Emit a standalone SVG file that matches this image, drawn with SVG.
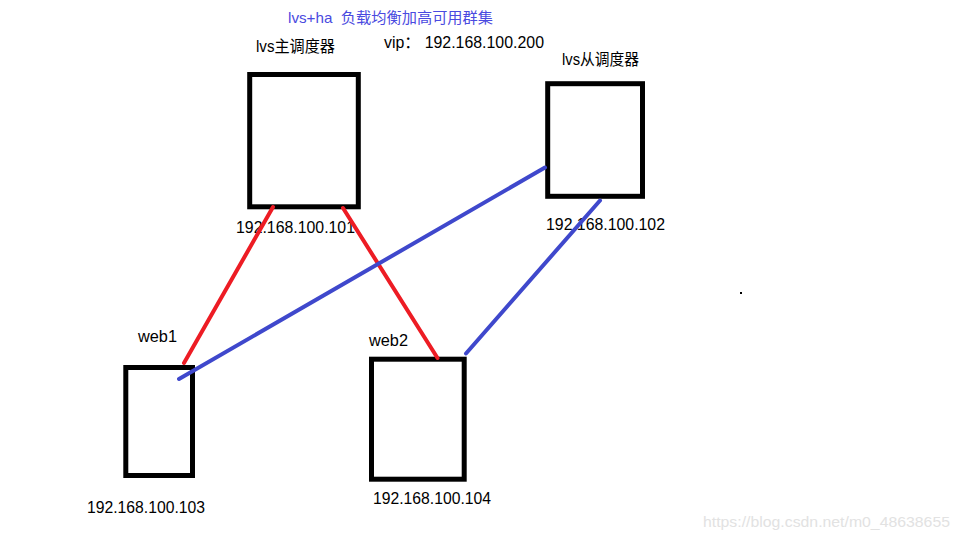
<svg xmlns="http://www.w3.org/2000/svg" width="960" height="540" viewBox="0 0 960 540">
<style>
.box{fill:#fff;stroke:#000;stroke-width:5}
.t{font-family:"Liberation Sans","Noto Sans CJK SC",sans-serif;font-size:16px;fill:#000}
.title{font-family:"Liberation Sans","Noto Sans CJK SC",sans-serif;font-size:14.5px;fill:#4a4ae0}
.red{stroke:#ed1c24;stroke-width:4;stroke-linecap:round;fill:none}
.blue{stroke:#3f48cc;stroke-width:4;stroke-linecap:round;fill:none}
.wm{font-family:"Liberation Sans",sans-serif;font-size:15px;fill:#e2e2e2}
</style>
<rect width="960" height="540" fill="#fff"/>
<text class="title" x="288" y="23" textLength="205" lengthAdjust="spacingAndGlyphs" xml:space="preserve">lvs+ha  负载均衡加高可用群集</text>
<text class="t" x="384" y="48" textLength="160" lengthAdjust="spacingAndGlyphs">vip： 192.168.100.200</text>
<g id="master">
<rect class="box" x="249.7" y="74.5" width="108.6" height="132.3"/>
<text class="t" x="256" y="52" textLength="79" lengthAdjust="spacingAndGlyphs">lvs主调度器</text>
<text class="t" x="236" y="233" textLength="119" lengthAdjust="spacingAndGlyphs">192.168.100.101</text>
</g>
<g id="backup">
<rect class="box" x="547.7" y="83.7" width="94.8" height="112.6"/>
<text class="t" x="562" y="65" textLength="77" lengthAdjust="spacingAndGlyphs">lvs从调度器</text>
<text class="t" x="546" y="230" textLength="119" lengthAdjust="spacingAndGlyphs">192.168.100.102</text>
</g>
<g id="web1">
<rect class="box" x="125.8" y="367.5" width="66.7" height="108"/>
<text class="t" x="138" y="342" textLength="39" lengthAdjust="spacingAndGlyphs">web1</text>
<text class="t" x="87" y="513" textLength="118" lengthAdjust="spacingAndGlyphs">192.168.100.103</text>
</g>
<g id="web2">
<rect class="box" x="371.5" y="359.2" width="92.7" height="120"/>
<text class="t" x="369" y="346" textLength="39" lengthAdjust="spacingAndGlyphs">web2</text>
<text class="t" x="373" y="504" textLength="118" lengthAdjust="spacingAndGlyphs">192.168.100.104</text>
</g>
<g id="connectors">
<line class="red" x1="273" y1="207" x2="184" y2="363"/>
<line class="red" x1="343" y1="208" x2="437.5" y2="358"/>
<line class="blue" x1="545" y1="167.5" x2="179" y2="379"/>
<line class="blue" x1="600" y1="200.5" x2="466" y2="353.5"/>
</g>
<rect x="740" y="292" width="2" height="2" fill="#000"/>
<text class="wm" x="703" y="527" textLength="247" lengthAdjust="spacingAndGlyphs">https://blog.csdn.net/m0_48638655</text>
</svg>
